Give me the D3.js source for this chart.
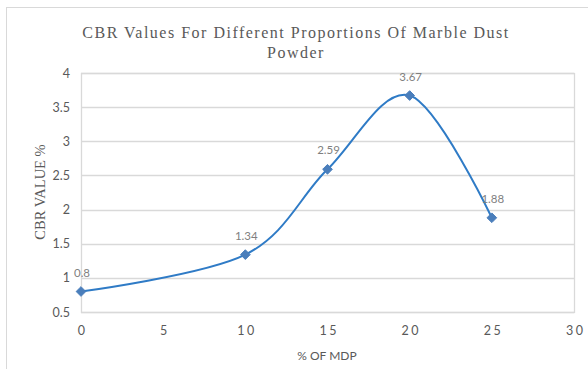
<!DOCTYPE html>
<html><head><meta charset="utf-8">
<script src="https://cdn.jsdelivr.net/npm/d3@7"></script>
<style>body{margin:0;background:#fff}svg{display:block}</style>
</head><body>
<svg id="c" width="588" height="369"></svg>
<script>
const xValues = [0, 10, 15, 20, 25];
const cbrValues = [0.8, 1.34, 2.59, 3.67, 1.88];
const xTicks = [0, 5, 10, 15, 20, 25, 30];
const yTicks = [0.5, 1, 1.5, 2, 2.5, 3, 3.5, 4];
const titleLines = ["CBR Values For Different Proportions Of Marble Dust", "Powder"];
const xTitle = "% OF MDP";
const yTitle = "CBR VALUE %";

const svg = d3.select("#c");
const m = {left: 81, right: 574, top: 73, bottom: 312};
const x = d3.scaleLinear().domain([0, 30]).range([m.left, m.right]);
const y = d3.scaleLinear().domain([0.5, 4]).range([m.bottom, m.top]);
const gray = "#595959";
const sans = "Lato, 'Open Sans', sans-serif";
const serif = "'Liberation Serif', 'DejaVu Serif', serif";

// outer chart border
svg.append("rect").attr("x", 6.5).attr("y", 7.5).attr("width", 600).attr("height", 400)
  .attr("fill", "none").attr("stroke", "#d9d9d9").attr("stroke-width", 1);

// gridlines
svg.append("g").selectAll("line").data(yTicks).join("line")
  .attr("x1", m.left).attr("x2", m.right)
  .attr("y1", d => Math.round(y(d)) + 0.5).attr("y2", d => Math.round(y(d)) + 0.5)
  .attr("stroke", "#d9d9d9").attr("stroke-width", 1.3);
// plot border
svg.append("rect").attr("x", m.left + 0.5).attr("y", m.top + 0.5)
  .attr("width", m.right - m.left).attr("height", m.bottom - m.top)
  .attr("fill", "none").attr("stroke", "#d9d9d9").attr("stroke-width", 1.3);

// y axis tick labels
const yAxis = d3.axisLeft(y).tickValues(yTicks).tickSize(0).tickPadding(11).tickFormat(d3.format(""));
const gy = svg.append("g").attr("transform", `translate(${m.left},0)`).call(yAxis);
gy.select(".domain").remove();
gy.selectAll("text").attr("fill", gray).attr("font-family", sans).attr("font-size", 12.5);

// x axis tick labels
const xAxis = d3.axisBottom(x).tickValues(xTicks).tickSize(0).tickPadding(14).tickFormat(d3.format(""));
const gx = svg.append("g").attr("transform", `translate(0,${m.bottom})`).call(xAxis);
gx.select(".domain").remove();
gx.selectAll("text").attr("fill", gray).attr("font-family", sans).attr("font-size", 12.5)
  .attr("letter-spacing", 2.5).attr("dx", 1.2);

// line
const pts = xValues.map((v, i) => [v, cbrValues[i]]);
const line = d3.line().x(d => x(d[0])).y(d => y(d[1])).curve(d3.curveCardinal.tension(0));
svg.append("path").datum(pts).attr("d", line).attr("fill", "none")
  .attr("stroke", "#2f7bc6").attr("stroke-width", 2);

// markers
svg.append("g").selectAll("path").data(pts).join("path")
  .attr("d", d3.symbol(d3.symbolDiamond2, 60))
  .attr("transform", d => `translate(${x(d[0])},${y(d[1])})`)
  .attr("fill", "#4a7ebb").attr("stroke", "#4a7ebb").attr("stroke-width", 1);

// data labels
svg.append("g").selectAll("text").data(pts).join("text")
  .attr("x", d => x(d[0]) + 1).attr("y", d => y(d[1]) - 15)
  .attr("text-anchor", "middle").attr("fill", "#7f7f7f")
  .attr("font-family", sans).attr("font-size", 11.5)
  .text(d => d[1]);

// title
svg.append("g").selectAll("text").data(titleLines).join("text")
  .attr("x", 296).attr("y", (d, i) => 38 + i * 20)
  .attr("text-anchor", "middle").attr("fill", gray)
  .attr("font-family", serif).attr("font-size", 16).attr("letter-spacing", 1.5)
  .text(d => d);

// axis titles
svg.append("text").attr("x", 327).attr("y", 360).attr("text-anchor", "middle")
  .attr("fill", gray).attr("font-family", sans).attr("font-size", 12).text(xTitle);
svg.append("text").attr("transform", "translate(45,192) rotate(-90)").attr("text-anchor", "middle")
  .attr("fill", gray).attr("font-family", serif).attr("font-size", 14.5).text(yTitle);
</script>
</body></html>
